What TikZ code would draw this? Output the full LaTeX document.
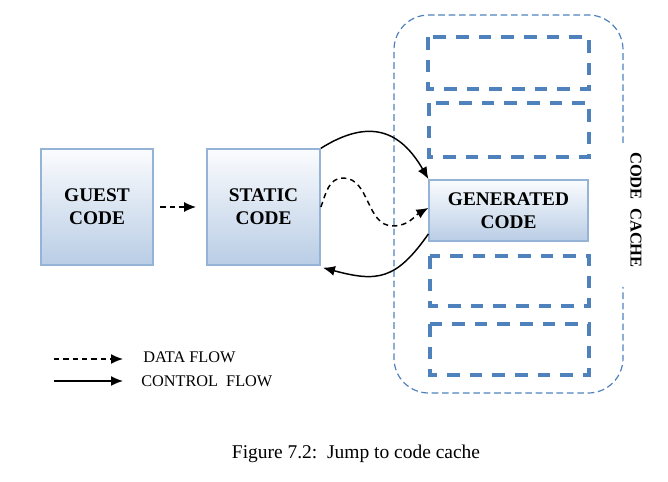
\documentclass[tikz,border=0pt]{standalone}
\usepackage{fontspec}
\setmainfont{Liberation Serif}
\usetikzlibrary{arrows.meta,positioning,calc}
\definecolor{boxtop}{HTML}{FBFCFE}
\definecolor{boxbot}{HTML}{B9CDE5}
\definecolor{boxline}{HTML}{95B3D7}
\definecolor{cacheblue}{HTML}{4F81BD}

\begin{document}
\begin{tikzpicture}[x=0.75pt,y=0.75pt,
    codebox/.style={draw=boxline, line width=1.1pt, top color=boxtop, bottom color=boxbot,
        inner sep=0pt, align=center, font=\fontsize{14.5}{17.5}\selectfont\bfseries},
    slot/.style={draw=cacheblue, line width=2.6pt, dash pattern=on 9.5pt off 7.5pt},
    cacheline/.style={draw=cacheblue, line width=0.9pt, dash pattern=on 5pt off 2.8pt},
    ctrlflow/.style={-{Latex[length=9pt,width=7.5pt]}, line width=1.1pt},
    dataflow/.style={ctrlflow, dash pattern=on 4pt off 3pt}]
    \useasboundingbox (0,0) rectangle (668,482);

    % Boxes
    \node[codebox, minimum width=84pt, minimum height=87pt] (guest) at (97,275) {GUEST\\CODE};
    \node[codebox, minimum width=85pt, minimum height=87pt] (static) at (263.5,275) {STATIC\\CODE};
    \node[codebox, minimum width=119pt, minimum height=46pt] (gen) at (508.5,271.5) {GENERATED\\CODE};

    % Code cache
    \draw[cacheline, rounded corners=26pt] (623,339) -- (623,467) -- (394,467) -- (394,89) -- (623,89) -- (623,195);
    \node[rotate=-90, font=\fontsize{12.4}{14}\selectfont\bfseries] (cache) at (636,272) {CODE\ \ CACHE};

    % Empty slots
    \draw[slot] (428,445) rectangle (589,393);
    \draw[slot] (429,379) rectangle (589,325);
    \draw[slot] (430,226) rectangle (589,176);
    \draw[slot] (430,158) rectangle (589,107);

    % Flows
    \draw[dataflow] ([xshift=5pt]guest.east) -- ([xshift=-7.5pt]static.west);
    \draw[ctrlflow] (static.north east) to[out=32, in=120, looseness=1.3] (gen.north west);
    \draw[dataflow] (static.east) to[out=70, in=180] (343,304) to[out=0, in=180] (393,256)
        to[out=0, in=210] ([yshift=2pt]gen.west);
    \draw[ctrlflow] ([yshift=6pt]gen.south west) to[out=235, in=-15, looseness=1.3] ([shift={(1.5pt,-1.5pt)}]static.south east);

    % Legend
    \coordinate (data0) at (54,123);
    \coordinate (data1) at (123,123);
    \coordinate (ctrl0) at (54,101);
    \coordinate (ctrl1) at (123,101);
    \draw[dataflow] (data0) -- (data1);
    \draw[ctrlflow] (ctrl0) -- (ctrl1);
    \node[anchor=base west, inner sep=0pt, font=\fontsize{12.2}{14}\selectfont] (datatext) at (143,119) {DATA FLOW};
    \node[anchor=base west, inner sep=0pt, font=\fontsize{12.2}{14}\selectfont] (ctrltext) at (141,95) {CONTROL\ \ FLOW};

    % Caption
    \node[anchor=base, inner sep=0pt, font=\fontsize{14.6}{17}\selectfont] (caption) at (356,23) {Figure 7.2:\ \ Jump to code cache};
\end{tikzpicture}
\end{document}
